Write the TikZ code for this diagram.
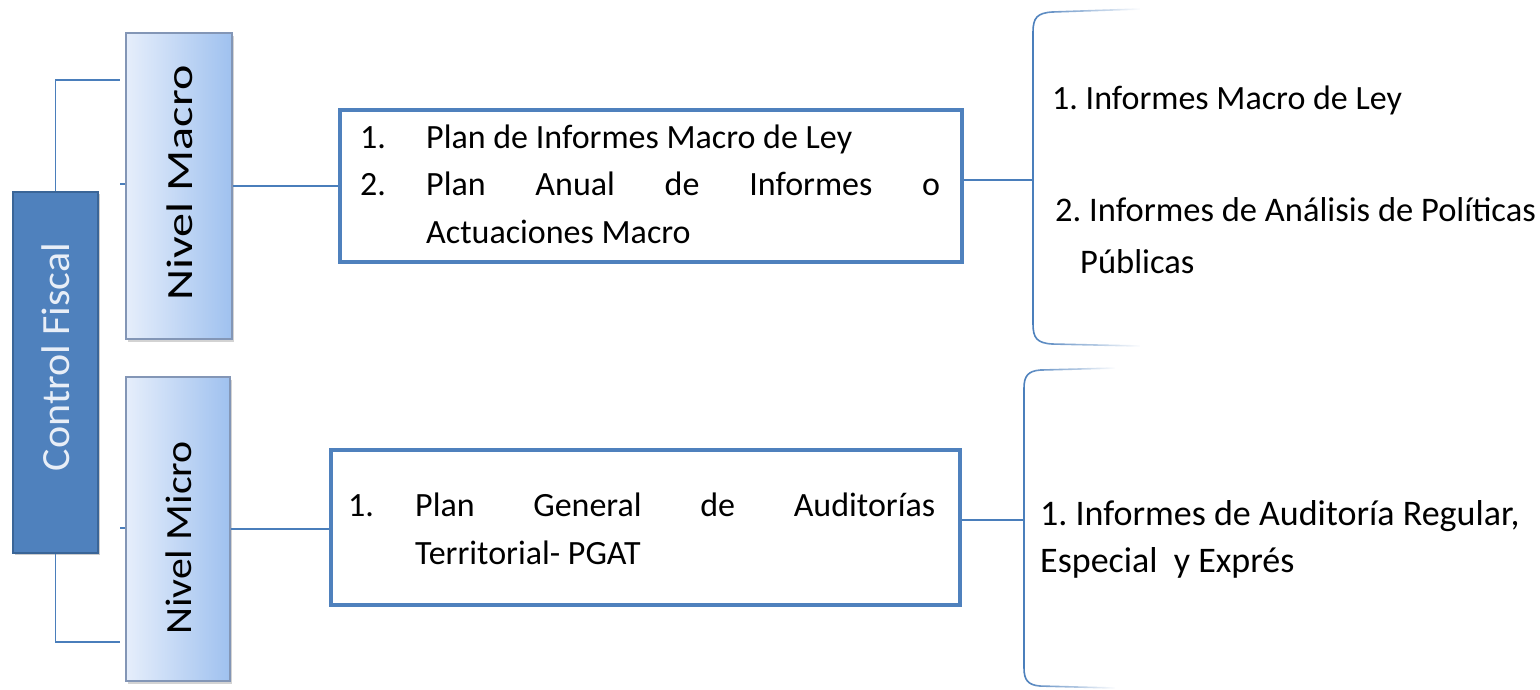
\documentclass[tikz,border=0pt]{standalone}
\usepackage{fontspec}
\setmainfont{Carlito}
\usetikzlibrary{shadows,fadings}
\definecolor{cfblue}{HTML}{4F81BD}
\definecolor{cfedge}{HTML}{3A6597}
\definecolor{cftext}{HTML}{E8EEF7}
\definecolor{lvleft}{HTML}{E6EEFB}
\definecolor{lvright}{HTML}{9FC1EF}
\definecolor{lvedge}{HTML}{8396B6}
\definecolor{connc}{HTML}{4A7EBB}
\tikzfading[name=fadeR, left color=transparent!0, middle color=transparent!0, right color=transparent!100]
\frenchspacing
\begin{document}
\frenchspacing
\begin{tikzpicture}[x=1pt,y=-1pt,
  cfbox/.style={draw=cfedge, line width=2pt, fill=cfblue, inner sep=0pt,
     drop shadow={shadow xshift=1.5pt, shadow yshift=-2pt, fill=black!50, opacity=.4}},
  lvbox/.style={draw=lvedge, line width=1.5pt, left color=lvleft, right color=lvright, inner sep=0pt,
     drop shadow={shadow xshift=1.5pt, shadow yshift=-3pt, fill=black!50, opacity=.35}},
  vtxt/.style={inner sep=0pt, rotate=90},
  planbox/.style={draw=cfblue, line width=3.5pt, fill=white, inner sep=0pt},
  boxtxt/.style={inner sep=0pt, anchor=base west, font=\fontsize{34}{40}\selectfont},
  restxt/.style={inner sep=0pt, anchor=base west},
  conn/.style={draw=connc, line width=1.3pt},
  brk/.style={draw=connc, line width=1.6pt, path fading=fadeR}]
\useasboundingbox (0,0) rectangle (1540,690);

% left column
\node[cfbox, minimum width=85pt, minimum height=361pt] (cf) at (55.5,372) {};
\node[vtxt, text=cftext] (cft) at (56,357)
  {\scalebox{1.05}[1]{\fontsize{40}{46}\selectfont Control Fiscal}};
\node[lvbox, minimum width=106pt, minimum height=306pt] (nm) at (179,186) {};
\node[vtxt] (nmt) at (180,183)
  {\scalebox{1.3}[1]{\fontsize{37}{44}\selectfont Nivel Macro}};
\node[lvbox, minimum width=104pt, minimum height=304pt] (nmi) at (178,529) {};
\node[vtxt] (nmit) at (179,538)
  {\scalebox{1.13}[1]{\fontsize{37}{44}\selectfont Nivel Micro}};

% plan boxes
\node[planbox, minimum width=622pt, minimum height=152pt] (b1) at (651,186) {};
\node[planbox, minimum width=629pt, minimum height=155pt] (b2) at (645.5,527.5) {};

\node[boxtxt] (b1n1) at (360,149) {1.};
\node[boxtxt] (b1t1) at (426,149) {Plan de Informes Macro de Ley};
\node[boxtxt] (b1n2) at (360,196) {2.};
\node[boxtxt] (b1t2) at (426,196) {\makebox[514pt][s]{Plan Anual de Informes o}};
\node[boxtxt] (b1t3) at (426,243) {Actuaciones Macro};

\node[boxtxt] (b2n1) at (348,516) {1.};
\node[boxtxt] (b2t1) at (415,516) {\makebox[520pt][s]{Plan General de Auditorías}};
\node[boxtxt] (b2t2) at (415,564) {Territorial- PGAT};

% result texts
\node[restxt, font=\fontsize{34}{40}\selectfont] (r1) at (1052,110) {1. Informes Macro de Ley};
\node[restxt, font=\fontsize{34.5}{40}\selectfont] (r2) at (1055,221) {2. Informes de Análisis de Políticas};
\node[restxt, font=\fontsize{34.5}{40}\selectfont] (r2b) at (1080,273) {Públicas};
\node[restxt, font=\fontsize{36}{42}\selectfont] (r3) at (1040,525) {1. Informes de Auditoría Regular,};
\node[restxt, font=\fontsize{36}{42}\selectfont] (r3b) at (1040,572) {Especial\hspace{0.45em}y Exprés};

% connectors
\coordinate (cftop) at (120,80);
\coordinate (cfbot) at (120,642);
\draw[conn] (cf.north) |- (cftop);
\draw[conn] (cf.south) |- (cfbot);
\coordinate (nmstub) at (120,184);
\coordinate (nmistub) at (120,528);
\draw[conn] (nmstub) -- (nmstub -| nm.west);
\draw[conn] (nmistub) -- (nmistub -| nmi.west);
\draw[conn] (nm.east) -- (nm.east -| b1.west);
\draw[conn] (nmi.east) -- (nmi.east -| b2.west);
\coordinate (br1) at (1033,180);
\coordinate (br2) at (1024,520);
\draw[conn] (br1 -| b1.east) -- (br1);
\draw[conn] (br2 -| b2.east) -- (br2);

% brackets
\draw[brk] (1140,9) -- (1052,12) .. controls (1037,13) and (1033,18) .. (1033,32)
  -- (1033,324) .. controls (1033,338) and (1037,343) .. (1052,344) -- (1140,346);
\draw[brk] (1115,368) -- (1040,370) .. controls (1028,371) and (1024,376) .. (1024,388)
  -- (1024,668) .. controls (1024,680) and (1028,685) .. (1040,686) -- (1115,688);
\end{tikzpicture}
\end{document}
